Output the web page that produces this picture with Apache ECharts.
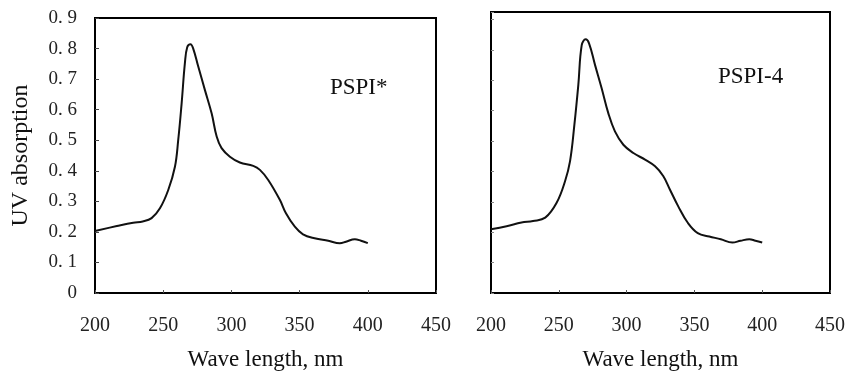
<!DOCTYPE html>
<html><head><meta charset="utf-8">
<script src="https://cdn.jsdelivr.net/npm/echarts@6/dist/echarts.min.js"></script>
<style>html,body{margin:0;padding:0;background:#fff}#c{width:847px;height:371px}</style>
</head><body><div id="c"></div>
<script>
const waveA = [200,216,228,235,241.5,247.6,253.7,258.6,261,263.5,265.9,267.6,270,272,275.7,280.6,285.5,289.2,292.8,298.9,306.2,316,320.9,327,335.5,340,346.5,352.5,361,371,379.5,384,390.5,395,400];
const absA  = [0.203,0.219,0.230,0.234,0.245,0.277,0.337,0.413,0.50,0.62,0.752,0.804,0.814,0.80,0.741,0.664,0.588,0.512,0.474,0.446,0.427,0.416,0.403,0.37,0.305,0.261,0.217,0.192,0.179,0.171,0.163,0.168,0.176,0.171,0.163];
const waveB = [200,211.5,222.5,231,240,248.4,254.6,258.3,261.5,264.4,266.9,269.8,272.3,276.7,281.6,286.5,291.4,297.6,305,313.6,321,327,332,338,345,352.5,361,369.5,378,384,390.5,395,400];
const absB  = [0.21,0.22,0.232,0.237,0.248,0.297,0.368,0.434,0.554,0.685,0.816,0.835,0.822,0.751,0.674,0.592,0.532,0.488,0.461,0.439,0.417,0.385,0.34,0.286,0.232,0.197,0.186,0.177,0.166,0.172,0.177,0.172,0.166];
const xTickLabels = ['200','250','300','350','400','450'];
const yTickLabels = ['0','0. 1','0. 2','0. 3','0. 4','0. 5','0. 6','0. 7','0. 8','0. 9'];
const labelA = 'PSPI*';
const labelB = 'PSPI-4';
const xName = 'Wave length, nm';
const yName = 'UV absorption';

const F = 'Liberation Serif, Times New Roman, serif';
const pairs = (xs, ys) => xs.map((x,i)=>[x, ys[i]]);
function xAx(gi){
  return {type:'value', gridIndex:gi, min:200, max:450, interval:50,
    name:xName, nameLocation:'middle', nameGap:55,
    nameTextStyle:{fontFamily:F, fontSize:23, color:'#111'},
    axisLine:{show:true, onZero:false, lineStyle:{color:'#000', width:2}},
    axisTick:{show:true, inside:true, length:3, lineStyle:{color:'#555'}},
    splitLine:{show:false},
    axisLabel:{margin:23, fontFamily:F, fontSize:20, color:'#222',
      formatter:v=>xTickLabels[Math.round((v-200)/50)] ?? ''}};
}
const chart = echarts.init(document.getElementById('c'));
chart.setOption({
  animation:false,
  backgroundColor:'#fff',
  title:[
    {text:labelA, left:325, top:71, textStyle:{fontFamily:F, fontSize:23, fontWeight:'normal', color:'#111'}},
    {text:labelB, left:713, top:60, textStyle:{fontFamily:F, fontSize:23, fontWeight:'normal', color:'#111'}}
  ],
  grid:[
    {left:95, right:411, top:18, bottom:78, show:true, borderColor:'#000', borderWidth:2, outerBoundsMode:'none', containLabel:false},
    {left:491, right:17, top:12, bottom:78, show:true, borderColor:'#000', borderWidth:2, outerBoundsMode:'none', containLabel:false}
  ],
  xAxis:[xAx(0), xAx(1)],
  yAxis:[
    {type:'value', gridIndex:0, min:0, max:0.9, interval:0.1,
      name:yName, nameLocation:'middle', nameGap:62,
      nameTextStyle:{fontFamily:F, fontSize:24, color:'#111'},
      axisLine:{show:true, lineStyle:{color:'#000', width:2}},
      axisTick:{show:true, inside:true, length:4, lineStyle:{color:'#444'}},
      splitLine:{show:false},
      axisLabel:{margin:18, fontFamily:F, fontSize:19, color:'#222',
        formatter:v=>yTickLabels[Math.round(v*10)] ?? ''}},
    {type:'value', gridIndex:1, min:0, max:0.925, interval:0.1,
      axisLine:{show:true, lineStyle:{color:'#000', width:2}},
      axisTick:{show:true, inside:true, length:3, lineStyle:{color:'#888'}},
      splitLine:{show:false},
      axisLabel:{show:false}}
  ],
  series:[
    {type:'line', xAxisIndex:0, yAxisIndex:0, data:pairs(waveA, absA), smooth:0.4, showSymbol:false,
      lineStyle:{color:'#111', width:2}},
    {type:'line', xAxisIndex:1, yAxisIndex:1, data:pairs(waveB, absB), smooth:0.4, showSymbol:false,
      lineStyle:{color:'#111', width:2}}
  ]
});
</script></body></html>
